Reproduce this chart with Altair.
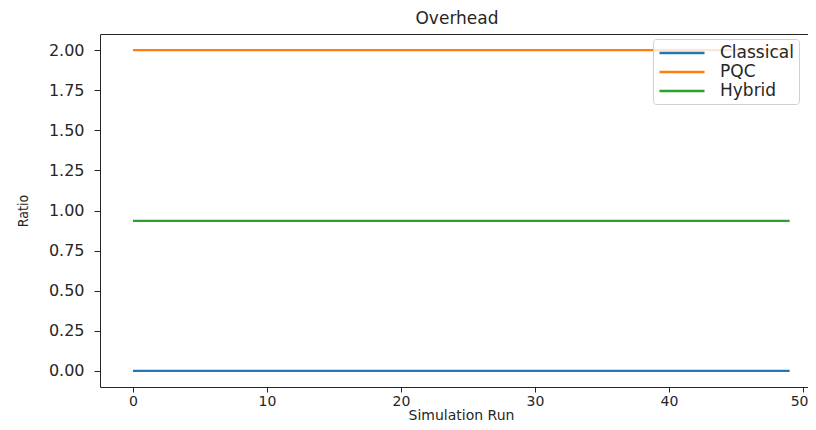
import altair as alt
import pandas as pd

runs = list(range(50))
classical = [0.0] * 50
pqc = [2.0] * 50
hybrid = [0.935] * 50
series = ["Classical", "PQC", "Hybrid"]
colors = ["#1f77b4", "#ff7f0e", "#2ca02c"]
x_ticks = [0, 10, 20, 30, 40, 50]
y_ticks = [0.0, 0.25, 0.5, 0.75, 1.0, 1.25, 1.5, 1.75, 2.0]

df = pd.DataFrame({
    "run": runs * 3,
    "ratio": classical + pqc + hybrid,
    "series": [s for s in series for _ in runs],
})

FONT = "DejaVu Sans"
INK = "#262626"
x_scale = alt.Scale(domain=[-2.46, 50.37], nice=False, zero=False)

lines = alt.Chart(df).mark_line(strokeWidth=2.3, clip=True).encode(
    x=alt.X("run:Q", scale=x_scale,
            axis=alt.Axis(values=x_ticks, title="Simulation Run", grid=False, format="d", orient="bottom",
                          labelFont=FONT, labelFontSize=14, labelColor=INK,
                          labelAlign=alt.condition("datum.value == 50", alt.value("right"), alt.value("center")),
                          labelOffset=alt.condition("datum.value == 50", alt.value(5), alt.value(0)),
                          titleFont=FONT, titleFontSize=14, titleFontWeight="normal", titleColor=INK,
                          titleX=361, titleY=32, titleBaseline="alphabetic",
                          tickSize=5, tickColor=INK, domainColor=INK, labelPadding=2)),
    y=alt.Y("ratio:Q",
            scale=alt.Scale(domain=[-0.1, 2.1], nice=False, zero=False),
            axis=alt.Axis(values=y_ticks, format=".2f", title="Ratio", grid=False,
                          labelFont=FONT, labelFontSize=16, labelColor=INK,
                          titleFont="DejaVu Sans Condensed, DejaVu Sans", titleFontSize=14,
                          titleFontWeight="normal",
                          titleColor=INK, tickSize=6, tickColor=INK, domainColor=INK,
                          labelPadding=10, titlePadding=18)),
    color=alt.Color("series:N", sort=series,
                    scale=alt.Scale(domain=series, range=colors),
                    legend=alt.Legend(title=None, orient="none", legendX=553, legendY=5,
                                      symbolType="M-3,0H3", symbolSize=225, symbolStrokeWidth=2.3,
                                      symbolOffset=15,
                                      labelFont=FONT, labelFontSize=17, labelColor=INK,
                                      labelExpr="datum.label + '\\u2003'",
                                      labelOffset=29, rowPadding=2, padding=5,
                                      fillColor="rgba(255,255,255,0.8)", strokeColor="#d0d0d0",
                                      cornerRadius=3)),
)

top_frame = alt.Chart(df).mark_line(opacity=0).encode(
    x=alt.X("run:Q", scale=x_scale,
            axis=alt.Axis(orient="top", labels=False, ticks=False, title=None, grid=False,
                          domain=True, domainColor=INK)),
)

chart = alt.layer(lines, top_frame, title=alt.Title("Overhead", font=FONT, fontSize=17,
                                                    fontWeight="normal", color=INK, offset=6, dx=3)
).resolve_axis(x="independent").properties(
    width=708, height=353,
    autosize=alt.AutoSizeParams(type="none"),
    padding={"left": 92, "top": 26, "right": 0, "bottom": 35},
).configure_view(stroke=None)

chart.save("out.html", embed_options={"renderer": "svg", "actions": False})
